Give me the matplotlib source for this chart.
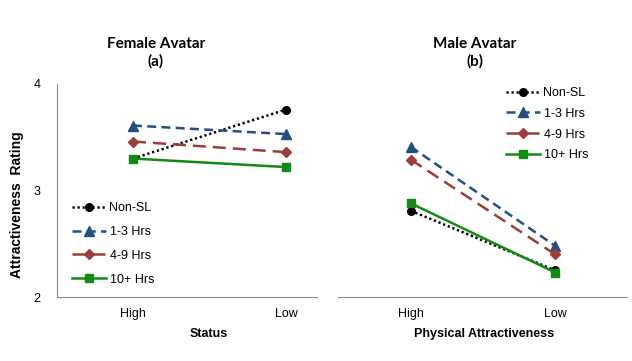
import numpy as np
import matplotlib
matplotlib.use("Agg")
import matplotlib.pyplot as plt

plt.rcParams['font.family'] = ['Liberation Sans', 'DejaVu Sans']

#### data
levels = ['High', 'Low']
groups = ['Non-SL', '1-3 Hrs', '4-9 Hrs', '10+ Hrs']

# panel (a): female avatar, by status
female_nonsl = [3.30, 3.76]
female_13 = [3.61, 3.53]
female_49 = [3.46, 3.36]
female_10 = [3.30, 3.22]

# panel (b): male avatar, by physical attractiveness
male_nonsl = [2.81, 2.25]
male_13 = [3.41, 2.48]
male_49 = [3.29, 2.40]
male_10 = [2.88, 2.23]

#### styles
colors = ['black', '#234E7E', '#9B3D3A', '#138A17']
markers = ['o', '^', 'D', 's']
msizes = [5.5, 6.5, 5, 5.5]
dashes = [(0.9, 1.1), (3.6, 2.1), (5.2, 2.8), None]

fig = plt.figure(figsize=(6.32, 3.61), dpi=100)
ax1 = fig.add_axes([57/632, 1-297/361, (317-57)/632, (297-84)/361])
ax2 = fig.add_axes([338/632, 1-297/361, (627-338)/632, (297-84)/361])

def draw(ax, series):
	""" draws the four groups on one panel """
	x = np.arange(len(levels))
	for vals, c, m, ms, d, lab in zip(series, colors, markers, msizes, dashes, groups):
		line, = ax.plot(x, vals, color=c, marker=m, markersize=ms, lw=1.8, label=lab)
		if d is not None:
			line.set_dashes(d)
	ax.set_ylim(2, 4)
	ax.set_yticks([2, 3, 4])
	ax.set_xticks(x)
	ax.set_xticklabels(levels, fontsize=9)
	ax.tick_params(length=0, labelsize=9, pad=8)
	for s in ['top', 'right']:
		ax.spines[s].set_visible(False)
	for s in ['left', 'bottom']:
		ax.spines[s].set_color('#8c8c8c')

draw(ax1, [female_nonsl, female_13, female_49, female_10])
draw(ax2, [male_nonsl, male_13, male_49, male_10])

ax1.set_xlim(-76/153, 1 + 31/153)
ax2.set_xlim(-73/145, 1 + 72/145)
ax2.spines['left'].set_visible(False)
ax2.set_yticks([])
ax1.tick_params(axis='y', pad=12)

ax1.set_xlabel('Status', fontsize=9, fontweight='bold')
ax2.set_xlabel('Physical Attractiveness', fontsize=9, fontweight='bold')
ax1.xaxis.set_label_coords((209-57)/260, -31/213)
ax2.xaxis.set_label_coords((484-338)/289, -31/213)
fig.text(17/632, 1-205/361, 'Attractiveness  Rating', rotation=90, fontsize=10,
	fontweight='bold', ha='center', va='center')

fig.text(156/632, 1-53/361, 'Female Avatar\n(a)', family='Lato', fontsize=11,
	fontweight='bold', ha='center', va='center', linespacing=1.25)
fig.text(475/632, 1-53/361, 'Male Avatar\n(b)', family='Lato', fontsize=11,
	fontweight='bold', ha='center', va='center', linespacing=1.25)

leg_kw = dict(frameon=False, fontsize=9, handlelength=2.7, handletextpad=0.3,
	borderpad=0, borderaxespad=0)
ax1.legend(loc='upper left', bbox_to_anchor=(72/632, 1-202/361),
	bbox_transform=fig.transFigure, labelspacing=0.95, **leg_kw)
ax2.legend(loc='upper left', bbox_to_anchor=(506/632, 1-87/361),
	bbox_transform=fig.transFigure, labelspacing=0.7, **leg_kw)

fig.savefig('out.png', dpi=100)
